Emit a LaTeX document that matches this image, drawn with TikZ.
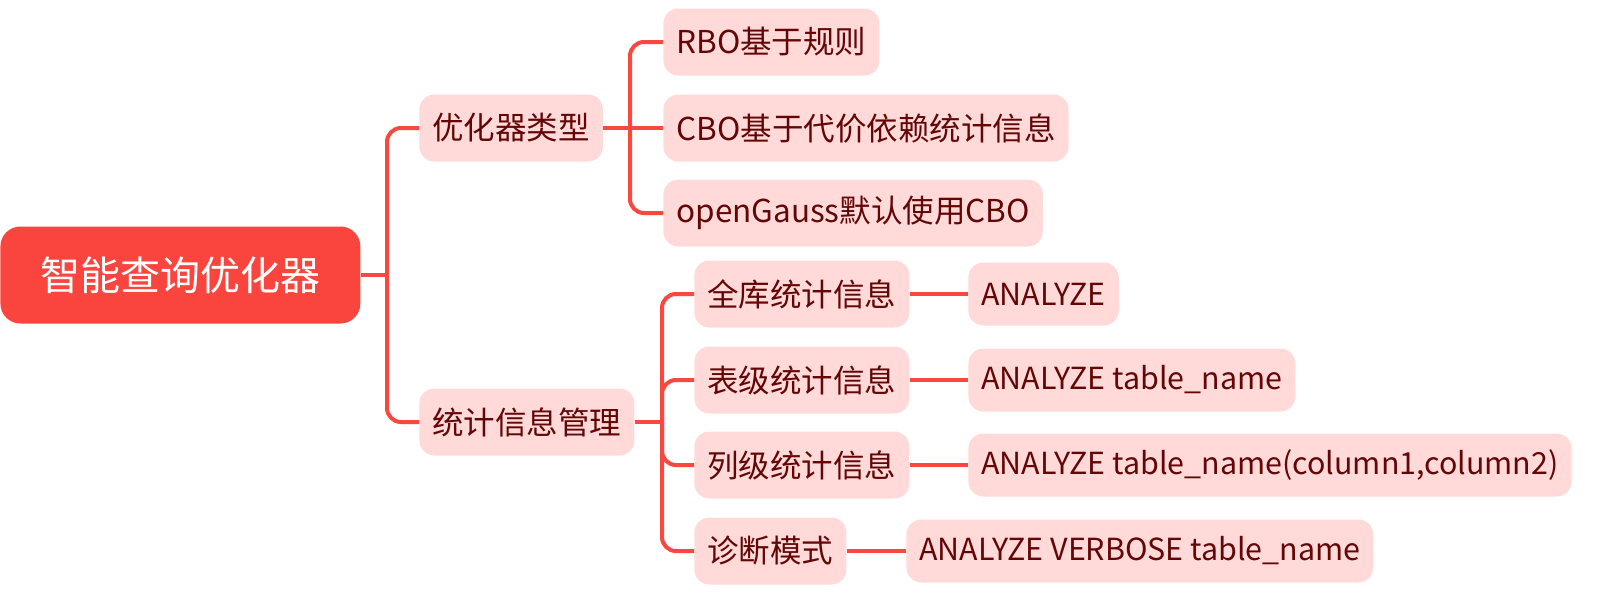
\documentclass[tikz,border=0pt]{standalone}
\usepackage{fontspec}
\setmainfont{Noto Sans CJK SC}
\definecolor{rootred}{RGB}{249,69,62}
\definecolor{linkred}{RGB}{250,72,64}
\definecolor{boxpink}{RGB}{255,218,217}
\definecolor{txtred}{RGB}{100,6,6}

\begin{document}
\begin{tikzpicture}[x=0.5pt,y=-0.5pt,
  rootbox/.style={fill=rootred, text=white, rounded corners=10pt, anchor=west,
    minimum width=180pt, minimum height=48.5pt, inner sep=0pt,
    font=\fontsize{20pt}{24pt}\selectfont},
  topic/.style={fill=boxpink, text=txtred, rounded corners=7.5pt, anchor=west,
    inner xsep=6.5pt, inner ysep=0pt, minimum height=33.5pt,
    font=\fontsize{15.75pt}{18pt}\selectfont},
  leaf/.style={topic, minimum height=31.5pt, font=\fontsize{15.2pt}{18pt}\selectfont},
  link/.style={draw=linkred, line width=2pt, rounded corners=7pt}]
  % Canvas with the margins of the reference
  \useasboundingbox (0,0) rectangle (1624,595);
  % Root topic
  \node[rootbox] (root) at (0,275) {智能查询优化器};
  % First level
  \node[topic] (kind) at (419,128) {优化器类型};
  \node[topic] (stats) at (419,422) {统计信息管理};
  % Optimizer kinds
  \node[topic] (rbo) at (663,42) {RBO基于规则};
  \node[topic] (cbo) at (663,128) {CBO基于代价依赖统计信息};
  \node[topic] (dflt) at (663,213) {openGauss默认使用CBO};
  % Statistics levels
  \node[topic] (whole) at (694,294) {全库统计信息};
  \node[topic] (table) at (694,380) {表级统计信息};
  \node[topic] (column) at (694,465) {列级统计信息};
  \node[topic] (diag) at (694,551) {诊断模式};
  % Commands
  \node[leaf] (cmdall) at (968,294) {ANALYZE};
  \node[leaf] (cmdtab) at (968,380) {ANALYZE table\_name};
  \node[leaf] (cmdcol) at (968,465) {ANALYZE table\_name(column1,column2)};
  \node[leaf] (cmdverb) at (906,551) {ANALYZE VERBOSE table\_name};
  % Branch points of the trunks
  \coordinate (trunkA) at (387,275);
  \coordinate (trunkB) at (630,128);
  \coordinate (trunkC) at (662,422);
  % Root to first level
  \draw[link] (root.east) -- (trunkA);
  \draw[link] (trunkA) |- (kind.west);
  \draw[link] (trunkA) |- (stats.west);
  % Optimizer kinds
  \draw[link] (kind.east) -- (cbo.west);
  \draw[link] (trunkB) |- (rbo.west);
  \draw[link] (trunkB) |- (dflt.west);
  % Statistics levels
  \draw[link] (stats.east) -- (trunkC);
  \foreach \lvl in {whole,table,column,diag}
    \draw[link] (trunkC) |- (\lvl.west);
  % Levels to commands
  \draw[link] (whole.east) -- (cmdall.west);
  \draw[link] (table.east) -- (cmdtab.west);
  \draw[link] (column.east) -- (cmdcol.west);
  \draw[link] (diag.east) -- (cmdverb.west);
\end{tikzpicture}
\end{document}
